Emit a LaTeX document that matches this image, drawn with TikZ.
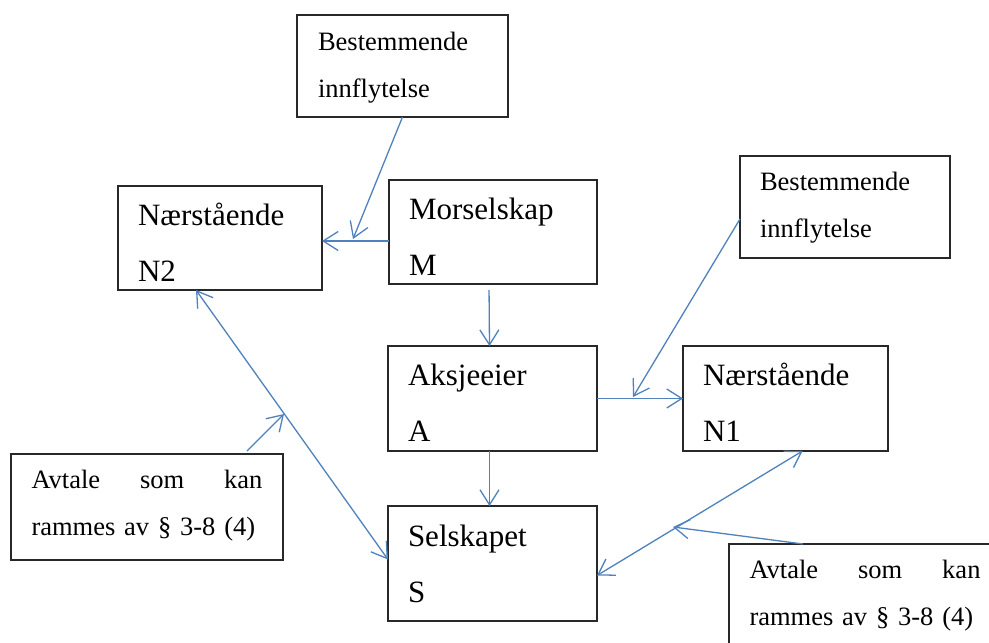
\documentclass[tikz,border=0pt]{standalone}
\usepackage{fontspec}
\setmainfont{Liberation Serif}
\usetikzlibrary{arrows.meta}
\definecolor{arrblue}{RGB}{79,129,189}
\definecolor{boxline}{RGB}{40,40,40}
\tikzset{
  bx/.style={draw=boxline, line width=1.2pt, anchor=north west, inner xsep=0pt, inner ysep=0pt, outer sep=0pt, align=left},
  bigbox/.style={bx, font=\fontsize{31}{56}\selectfont, minimum width=208pt, text width=168pt, text height=24pt},
  smallbox/.style={bx, font=\fontsize{26.5}{47}\selectfont, text height=20pt},
  arr/.style={draw=arrblue, line width=1.3pt, -{Straight Barb[length=15pt,width=19pt]}},
  darr/.style={draw=arrblue, line width=1.3pt, {Straight Barb[length=15pt,width=19pt]}-{Straight Barb[length=15pt,width=19pt]}}
}
\begin{document}
\begin{tikzpicture}[x=1pt,y=-1pt]
\useasboundingbox (0,0) rectangle (989,643);
\clip (0,0) rectangle (989,643);

% boxes
\node[smallbox, minimum width=211pt, minimum height=102pt, text width=169pt, text depth=52pt] (Btop) at (297,15) {Bestemmende\\innflytelse};
\node[bigbox, minimum width=204pt, text width=164pt, minimum height=104pt, text depth=50pt] (N2) at (118,186) {Nærstående\\N2};
\node[bigbox, minimum height=104pt, text depth=50pt] (M) at (389,180) {Morselskap\\M};
\node[smallbox, minimum width=210pt, minimum height=102pt, text width=170pt, text depth=54pt] (Bright) at (740,156) {Bestemmende\\innflytelse};
\node[bigbox, minimum width=209pt, text width=169pt, minimum height=105pt, text depth=51pt] (A) at (388,346) {Aksjeeier\\A};
\node[bigbox, minimum width=205pt, text width=165pt, minimum height=105pt, text depth=51pt] (N1) at (683,346) {Nærstående\\N1};
\node[smallbox, minimum width=272pt, minimum height=106pt, text width=231pt, text depth=58pt] (Aleft) at (11,454) {\hbox to 231pt{Avtale\hfill som\hfill kan}\\rammes av § 3-8 (4)};
\node[bigbox, minimum width=209pt, text width=169pt, minimum height=115pt, text depth=58pt] (S) at (388,506) {Selskapet\\S};
\node[smallbox, minimum width=272pt, minimum height=106pt, text width=231pt, text depth=58pt] (Aright) at (729,544) {\hbox to 231pt{Avtale\hfill som\hfill kan}\\rammes av § 3-8 (4)};

% free ends of connectors
\coordinate (c1) at (353,239);
\coordinate (c2) at (633,397);
\coordinate (c3) at (284,414);
\coordinate (c4) at (673,527);
\coordinate (m2) at ([yshift=-9pt]M.west);

% connectors
\draw[arr] (Btop.south) -- (c1);
\draw[arr] (m2) -- (m2 -| N2.east);
\draw[arr, shorten <=6pt] ([xshift=-4pt]M.south) -- ([xshift=-3pt]A.north);
\draw[arr] ([xshift=-3pt]A.south) -- ([xshift=-3pt]S.north);
\draw[arr] (A.east) -- (N1.west);
\draw[arr] ([yshift=-12pt]Bright.west) -- (c2);
\draw[darr] ([xshift=-24pt]N2.south) -- ([yshift=4pt]S.west);
\draw[arr] ([xshift=100pt,yshift=3pt]Aleft.north) -- (c3);
\draw[darr] ([xshift=17pt]N1.south) -- ([yshift=-12pt]S.east);
\draw[arr] ([xshift=-62pt]Aright.north) -- (c4);
\end{tikzpicture}
\end{document}
